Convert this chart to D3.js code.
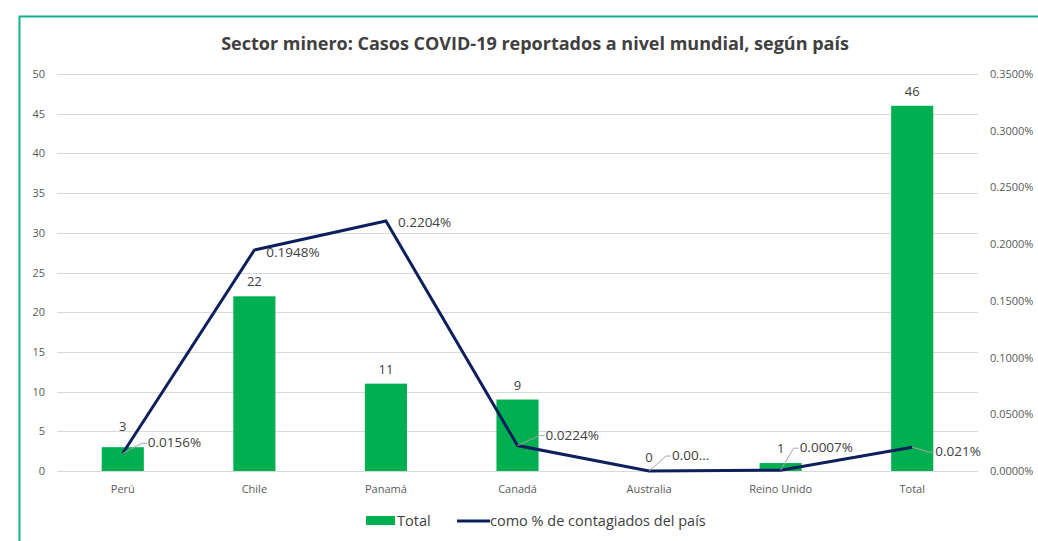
<!DOCTYPE html>
<html>
<head>
<meta charset="utf-8">
<script src="https://cdn.jsdelivr.net/npm/d3@7"></script>
<style>
  body { margin: 0; background: #fff; }
  svg { font-family: 'Open Sans', 'Liberation Sans', sans-serif; }
</style>
</head>
<body>
<div id="chart"></div>
<script>
'use strict';

// data
var countries = ['Perú', 'Chile', 'Panamá', 'Canadá', 'Australia', 'Reino Unido', 'Total'];
var casos = [3, 22, 11, 9, 0, 1, 46];
var pctContagiados = [0.0156, 0.1948, 0.2204, 0.0224, 0.0000, 0.0007, 0.021];
var pctLabels = ['0.0156%', '0.1948%', '0.2204%', '0.0224%', '0.00...', '0.0007%', '0.021%'];
var leftTicks = [0, 5, 10, 15, 20, 25, 30, 35, 40, 45, 50];
var rightTicks = [0, 0.05, 0.1, 0.15, 0.2, 0.25, 0.3, 0.35];

var width = 1038, height = 541;
var margin = { top: 74, right: 60, bottom: 70, left: 57 };

var svg = d3.select('#chart').append('svg')
    .attr('width', width)
    .attr('height', height);

// frame (teal border, cut off on the right)
svg.append('path')
    .attr('d', 'M19.5,' + height + ' V16.5 H' + width)
    .attr('fill', 'none')
    .attr('stroke', '#14b28c')
    .attr('stroke-width', 2);

svg.append('text')
    .attr('x', 535)
    .attr('y', 50)
    .attr('text-anchor', 'middle')
    .style('font-size', '18px')
    .style('font-weight', 'bold')
    .style('fill', '#404040')
    .text('Sector minero: Casos COVID-19 reportados a nivel mundial, según país');

var x = d3.scaleBand()
    .domain(countries)
    .range([margin.left, width - margin.right])
    .paddingInner(0.68)
    .paddingOuter(0.34);

var y = d3.scaleLinear().domain([0, 50]).range([height - margin.bottom, margin.top]);
var y2 = d3.scaleLinear().domain([0, 0.35]).range([height - margin.bottom, margin.top]);

// gridlines
svg.append('g')
    .selectAll('line')
    .data(leftTicks)
    .enter().append('line')
    .attr('x1', margin.left)
    .attr('x2', width - margin.right)
    .attr('y1', function(d) { return Math.round(y(d)) + 0.5; })
    .attr('y2', function(d) { return Math.round(y(d)) + 0.5; })
    .style('stroke', '#d9d9d9')
    .style('stroke-width', 1);

var leftAxis = svg.append('g')
    .attr('transform', 'translate(' + (margin.left - 12) + ',0)')
    .call(d3.axisLeft(y).tickValues(leftTicks).tickSize(0).tickPadding(0));
leftAxis.select('.domain').remove();

var rightAxis = svg.append('g')
    .attr('transform', 'translate(' + (width - margin.right + 12) + ',0)')
    .call(d3.axisRight(y2).tickValues(rightTicks).tickSize(0).tickPadding(0)
        .tickFormat(function(d) { return d.toFixed(4) + '%'; }));
rightAxis.select('.domain').remove();

var xAxis = svg.append('g')
    .attr('transform', 'translate(0,' + (height - margin.bottom + 14) + ')')
    .call(d3.axisBottom(x).tickSize(0).tickPadding(0));
xAxis.select('.domain').remove();

svg.selectAll('.tick text')
    .style('font-size', '11px')
    .style('fill', '#595959')
    .style('font-family', "'Open Sans', sans-serif");

// bars
svg.append('g')
    .selectAll('rect')
    .data(casos)
    .enter().append('rect')
    .attr('x', function(d, i) { return x(countries[i]); })
    .attr('y', function(d) { return y(d); })
    .attr('width', x.bandwidth())
    .attr('height', function(d) { return y(0) - y(d); })
    .style('fill', '#00b050');

// bar labels
svg.append('g')
    .selectAll('text')
    .data(casos)
    .enter().append('text')
    .attr('x', function(d, i) { return x(countries[i]) + x.bandwidth() / 2; })
    .attr('y', function(d, i) {
        if (i === 0) return y(d) - 16;
        if (i === 4) return y(d) - 9;
        return y(d) - 10;
    })
    .attr('text-anchor', 'middle')
    .style('font-size', '13px')
    .style('fill', '#404040')
    .text(function(d) { return d; });

// line
var cx = function(i) { return x(countries[i]) + x.bandwidth() / 2; };
var line = d3.line()
    .x(function(d, i) { return cx(i); })
    .y(function(d) { return y2(d); });

svg.append('path')
    .datum(pctContagiados)
    .attr('d', line)
    .attr('fill', 'none')
    .style('stroke', '#0d1f5c')
    .style('stroke-width', 3)
    .style('stroke-linejoin', 'miter');

// line labels: offsets from the point, and whether a leader line is drawn
var labelOffsets = [
    { dx: 25, dy: -6, leader: true },
    { dx: 12, dy: 7, leader: false },
    { dx: 12, dy: 6, leader: false },
    { dx: 28, dy: -6, leader: true },
    { dx: 23, dy: -11, leader: true },
    { dx: 19, dy: -18, leader: true },
    { dx: 23, dy: 9, leader: true }
];

var lbl = svg.append('g');
pctContagiados.forEach(function(d, i) {
    var o = labelOffsets[i];
    var px = cx(i), py = y2(d);
    var tx = px + o.dx, ty = py + o.dy;
    if (o.leader) {
        lbl.append('path')
            .attr('d', 'M' + px + ',' + py + ' L' + (tx - 6) + ',' + (ty - 4) + ' H' + (tx - 1))
            .attr('fill', 'none')
            .style('stroke', '#a6a6a6')
            .style('stroke-width', 1);
    }
    lbl.append('text')
        .attr('x', tx)
        .attr('y', ty)
        .style('font-size', '13.5px')
        .style('fill', '#404040')
        .text(pctLabels[i]);
});

// legend
var legend = svg.append('g').attr('transform', 'translate(366,521)');
legend.append('rect')
    .attr('x', 0).attr('y', -5)
    .attr('width', 29).attr('height', 9)
    .style('fill', '#00b050');
legend.append('text')
    .attr('x', 31).attr('y', 5)
    .style('font-size', '14.5px')
    .style('fill', '#404040')
    .text('Total');
legend.append('line')
    .attr('x1', 91).attr('x2', 124)
    .attr('y1', 0).attr('y2', 0)
    .style('stroke', '#0d1f5c')
    .style('stroke-width', 3);
legend.append('text')
    .attr('x', 124).attr('y', 5)
    .style('font-size', '14.5px')
    .style('fill', '#404040')
    .text('como % de contagiados del país');
</script>
</body>
</html>
